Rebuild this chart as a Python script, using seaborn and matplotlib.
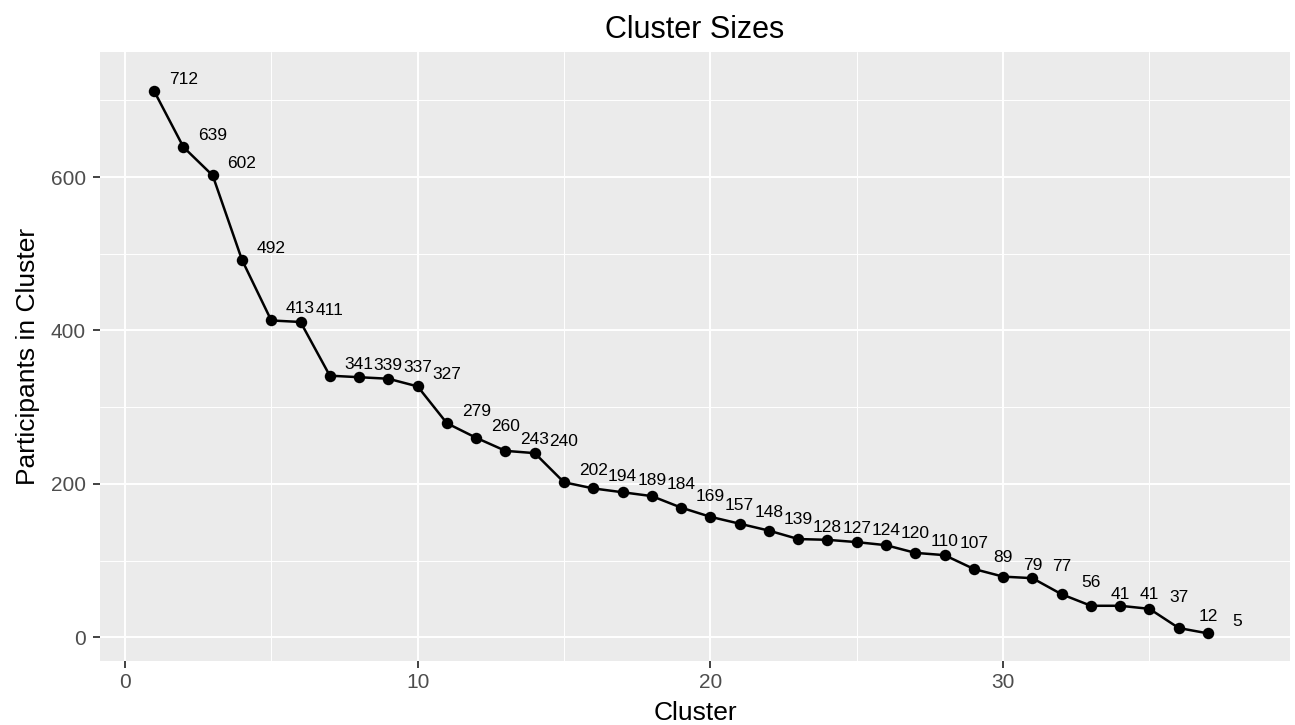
import numpy as np
import pandas as pd
import seaborn as sns
import matplotlib.pyplot as plt
from matplotlib.ticker import MultipleLocator

# tamaños de cada cluster
cluster = list(range(1, 38))
participants = [712, 639, 602, 492, 413, 411, 341, 339, 337, 327,
                279, 260, 243, 240, 202, 194, 189, 184, 169, 157,
                148, 139, 128, 127, 124, 120, 110, 107, 89, 79,
                77, 56, 41, 41, 37, 12, 5]

df = pd.DataFrame({"Cluster": cluster, "Participants": participants})

sns.set_theme(style="darkgrid", rc={
    "axes.facecolor": "#EBEBEB",
    "grid.color": "white",
    "axes.edgecolor": "#EBEBEB",
    "text.color": "black",
    "axes.labelcolor": "black",
})
plt.rcParams['font.family'] = ['Liberation Sans', 'DejaVu Sans']

fig = plt.figure(figsize=(12.95, 7.25), dpi=100)
# panel: x 100..1290 px, y 52..661 px
ax = fig.add_axes([100 / 1295, 64 / 725, 1190 / 1295, 609 / 725])

sns.lineplot(data=df, x="Cluster", y="Participants", color="black", lw=1.8, ax=ax, zorder=3)
sns.scatterplot(data=df, x="Cluster", y="Participants", color="black", s=68, linewidth=0, ax=ax, zorder=4)

# etiquetas desplazadas a la derecha y arriba
for c, p in zip(cluster, participants):
    ax.text(c + 1.0, p + 15, str(p), ha="center", va="center", fontsize=12.5, color="black", zorder=5)

ax.set_xlim(-0.85, 39.8)
ax.set_ylim(-31, 763)
ax.xaxis.set_major_locator(MultipleLocator(10))
ax.xaxis.set_minor_locator(MultipleLocator(5))
ax.yaxis.set_major_locator(MultipleLocator(200))
ax.yaxis.set_minor_locator(MultipleLocator(100))
ax.grid(which="major", color="white", lw=1.4)
ax.grid(which="minor", color="white", lw=0.7)
ax.tick_params(axis="both", which="major", labelsize=15, labelcolor="#4D4D4D",
               length=5, width=1.3, color="#333333", bottom=True, left=True)
ax.tick_params(axis="y", which="major", pad=5)
ax.tick_params(axis="x", which="major", pad=4)
ax.tick_params(axis="both", which="minor", length=0)
for s in ax.spines.values():
    s.set_visible(False)

ax.set_title("Cluster Sizes", fontsize=22, pad=10, color="black")
ax.set_xlabel("Cluster", fontsize=19, labelpad=6)
ax.set_ylabel("Participants in Cluster", fontsize=19, labelpad=8)

fig.savefig("out.png", dpi=100)
